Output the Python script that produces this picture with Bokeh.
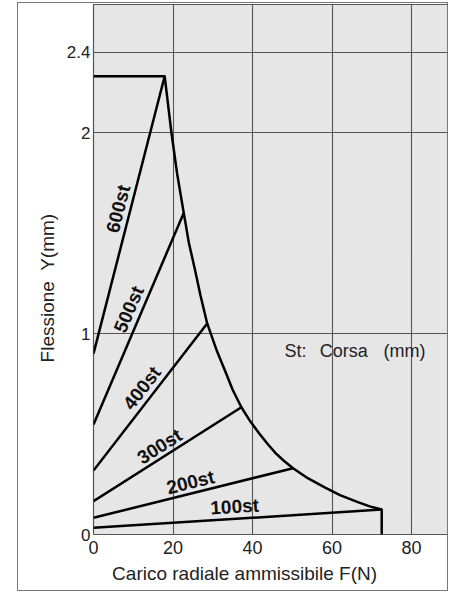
import math
from bokeh.plotting import figure
from bokeh.models import FixedTicker, Label
from bokeh.core.properties import value
from bokeh.embed import file_html
from bokeh.resources import INLINE

# ---- data ----
strokes = ["100st", "200st", "300st", "400st", "500st", "600st"]
y_at_zero = [0.033, 0.083, 0.166, 0.318, 0.547, 0.90]
f_peak = [72.5, 50.2, 37.2, 28.6, 22.7, 17.9]
y_peak = [0.124, 0.330, 0.633, 1.05, 1.60, 2.28]

env_f = [0, 17.9, 19.6, 21.0, 22.7, 24.0, 25.5, 26.9, 28.6, 30.3, 31.1, 33.6, 35.0,
         37.2, 39.2, 41.6, 43.6, 45.8, 47.8, 50.2, 54.0, 58.4, 62.0, 66.5, 69.5,
         72.5, 72.5]
env_y = [2.28, 2.28, 2.0, 1.80, 1.60, 1.45, 1.32, 1.19, 1.05, 0.955, 0.91, 0.79, 0.72,
         0.633, 0.57, 0.505, 0.455, 0.405, 0.368, 0.330, 0.279, 0.232, 0.196, 0.161,
         0.140, 0.124, 0.0]

x_ticks = [0, 20, 40, 60, 80]
y_ticks = [0, 1, 2, 2.4]
y_tick_labels = ["0", "1", "2", "2.4"]

label_x = [35.5, 24.4, 16.6, 12.2, 8.9, 6.2]
label_y = [0.139, 0.26, 0.438, 0.729, 1.12, 1.62]

note_x = [48.05, 56.9, 72.96]
note_text = ["St:", "Corsa", "(mm)"]
note_y = 0.915

FONT = "Liberation Sans"
NB = "\u00a0"
X_END = 89.3
W, H = 431, 589
ML, MR, MT, MB = 75, 1, 1, 58
FH = H - MT - MB
Y_END = FH / 201.0

p = figure(width=W, height=H, x_range=(0, X_END), y_range=(0, Y_END),
           output_backend="svg", toolbar_location=None,
           min_border_left=ML, min_border_right=MR, min_border_top=MT,
           min_border_bottom=MB,
           styles={"margin-left": "17px", "margin-top": "2px",
                   "border": "1px solid #777"})

p.background_fill_color = "#e6e6e6"
p.border_fill_color = "white"
p.outline_line_color = "#555555"
p.outline_line_width = 1.2

for ax in (p.xaxis[0], p.yaxis[0]):
    ax.major_tick_line_color = None
    ax.minor_tick_line_color = None
    ax.major_tick_out = 0
    ax.major_tick_in = 0
    ax.minor_tick_out = 0
    ax.axis_line_color = None
    ax.major_label_text_font = FONT
    ax.major_label_text_color = "#222222"
    ax.axis_label_text_font = FONT
    ax.axis_label_text_font_size = "19px"
    ax.axis_label_text_font_style = "normal"
    ax.axis_label_text_color = "#222222"

p.xaxis.ticker = FixedTicker(ticks=x_ticks)
p.xaxis.major_label_text_font_size = "18px"
p.xaxis.major_label_standoff = 6
p.xaxis.axis_label = "Carico radiale ammissibile F(N)" + NB * 10
p.xaxis.axis_label_standoff = 6

p.yaxis.ticker = FixedTicker(ticks=y_ticks)
p.yaxis.major_label_overrides = {t: s for t, s in zip(y_ticks, y_tick_labels)}
p.yaxis.major_label_text_font_size = "17px"
p.yaxis.major_label_standoff = 3
p.yaxis.axis_label = "Flessione" + NB + " Y(mm)" + NB * 7
p.yaxis.axis_label_standoff = 6

p.xgrid.ticker = FixedTicker(ticks=[t for t in x_ticks if t > 0])
p.ygrid.ticker = FixedTicker(ticks=[t for t in y_ticks if t > 0])
for g in (p.xgrid[0], p.ygrid[0]):
    g.grid_line_color = "#555555"
    g.grid_line_width = 1.1

# stroke lines
for y0, fp, yp in zip(y_at_zero, f_peak, y_peak):
    p.line([0, fp], [y0, yp], line_color="black", line_width=2.5)

# envelope
p.line(env_f, env_y, line_color="black", line_width=2.5, line_join="round")

# rotated stroke labels (angle follows each line on screen)
fw = W - ML - MR
sx = fw / X_END
sy = FH / Y_END
angles = [math.atan2((yp - y0) * sy, fp * sx) for y0, fp, yp in zip(y_at_zero, f_peak, y_peak)]
p.text(x=label_x, y=label_y, text=strokes, angle=angles,
       text_align="center", text_baseline="middle",
       text_font=value(FONT), text_font_style="bold", text_font_size="19px",
       text_color="#111111")

# St: Corsa (mm)
for tx, s in zip(note_x, note_text):
    p.add_layout(Label(x=tx, y=note_y, text=s, text_align="left", text_baseline="middle",
                       text_font=FONT, text_font_size="18px", text_color="#222222"))

open("out.html", "w").write(file_html(p, INLINE))
